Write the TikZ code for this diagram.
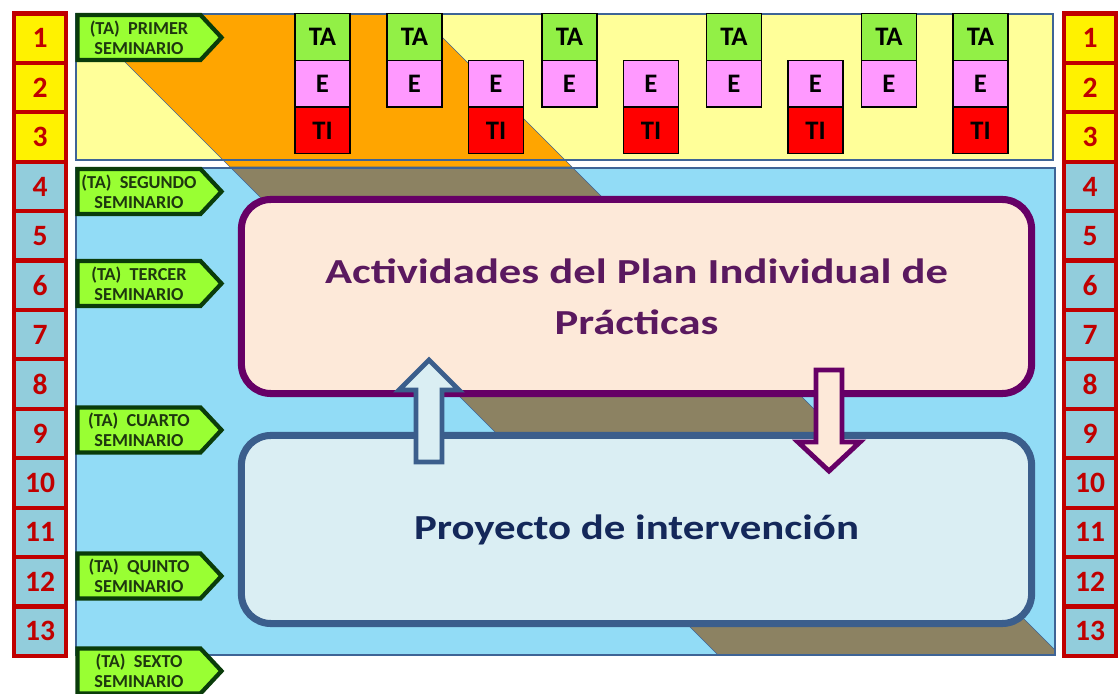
\documentclass[tikz,border=0pt]{standalone}
\usepackage{fontspec}
\setmainfont{Carlito}
\usepackage{graphicx}
\usetikzlibrary{shapes.symbols}
\definecolor{numred}{RGB}{192,0,0}
\definecolor{rowblue}{RGB}{146,205,220}
\definecolor{topyellow}{RGB}{255,255,153}
\definecolor{skyfill}{RGB}{146,220,246}
\definecolor{frameblue}{RGB}{62,100,150}
\definecolor{bandorange}{RGB}{255,165,0}
\definecolor{bandbrown}{RGB}{140,130,98}
\definecolor{taggreen}{RGB}{153,255,51}
\definecolor{tagdark}{RGB}{10,60,10}
\definecolor{tagtext}{RGB}{30,55,15}
\definecolor{cellgreen}{RGB}{146,240,70}
\definecolor{cellpink}{RGB}{255,153,255}
\definecolor{cellred}{RGB}{255,0,0}
\definecolor{planfill}{RGB}{253,233,217}
\definecolor{planline}{RGB}{102,0,102}
\definecolor{plantext}{RGB}{90,25,95}
\definecolor{projfill}{RGB}{218,238,243}
\definecolor{projline}{RGB}{59,94,140}
\definecolor{projtext}{RGB}{20,40,90}
\newcommand{\wide}[2][1.3]{\scalebox{#1}[1]{#2}}

\begin{document}
\begin{tikzpicture}[x=0.025cm, y=-0.025cm,
		numcell/.style={draw=numred, line width=3pt, minimum width=1.3cm, minimum height=1.235cm,
		inner sep=0pt, text=numred, font=\bfseries\fontsize{21}{21}\selectfont, node distance=1.235cm},
		topnum/.style={numcell, fill=yellow},
		lownum/.style={numcell, fill=rowblue},
		tagbox/.style={shape=signal, signal to=east, signal pointer angle=94, draw=tagdark, line width=3pt,
		fill=taggreen, minimum width=3.6cm, minimum height=1.125cm, inner sep=0pt, align=center,
		text=tagtext, font=\bfseries\fontsize{13}{14.5}\selectfont},
		cell/.style={draw=black, line width=1pt, minimum width=1.375cm, minimum height=1.167cm,
		inner sep=0pt, font=\bfseries\fontsize{19}{19}\selectfont, node distance=1.167cm},
		tacell/.style={cell, fill=cellgreen},
		ecell/.style={cell, fill=cellpink},
		ticell/.style={cell, fill=cellred},
		planbox/.style={draw=planline, line width=5pt, fill=planfill, rounded corners=21pt,
		minimum width=19.75cm, minimum height=4.85cm, align=center, text=plantext,
		font=\bfseries\fontsize{25}{36}\selectfont},
		projbox/.style={draw=projline, line width=5pt, fill=projfill, rounded corners=21pt,
		minimum width=19.75cm, minimum height=4.7cm, align=center, text=projtext,
		font=\bfseries\fontsize{25}{36}\selectfont}
		]
		\useasboundingbox (0,0) rectangle (1119,694);
		
		% upper band
		\fill[topyellow] (76,14) rectangle (1053,160);
		\begin{scope}
			\clip (76,14) rectangle (1053,167);
			\filldraw[fill=bandorange, draw=frameblue, thin] (77,14) -- (419,14) -- (572,167) -- (230,167) -- cycle;
		\end{scope}
		\draw[frameblue, line width=1.5pt] (76,14) rectangle (1053,160);
		
		% lower band
		\fill[skyfill] (76,168) rectangle (1055,655);
		\begin{scope}
			\clip (76,168) rectangle (1055,655);
			\filldraw[fill=bandbrown, draw=frameblue, thin] (231,168) -- (573,168) -- (1060,655) -- (718,655) -- cycle;
		\end{scope}
		\draw[frameblue, line width=1.5pt] (76,168) rectangle (1055,655);
		
		% seminarios
		\node[tagbox](S1) at (139,37.5){(TA)\ \ PRIMER\\SEMINARIO};
		\node[tagbox](S2) at (139,191.5){(TA)\ \ SEGUNDO\\SEMINARIO};
		\node[tagbox](S3) at (139,283.5){(TA)\ \ TERCER\\SEMINARIO};
		\node[tagbox](S4) at (139,430){(TA)\ \ CUARTO\\SEMINARIO};
		\node[tagbox](S5) at (139,576){(TA)\ \ QUINTO\\SEMINARIO};
		\node[tagbox](S6) at (139,671){(TA)\ \ SEXTO\\SEMINARIO};
		
		% TA / E / TI
		\node[tacell](TA1) at (322.5,37){TA};
		\node[ecell, below of = TA1](E1){E};
		\node[ticell, below of = E1](TI1){TI};
		\node[tacell](TA2) at (414.5,37){TA};
		\node[ecell, below of = TA2](E2){E};
		\node[ecell](E3) at (496,83.7){E};
		\node[ticell, below of = E3](TI3){TI};
		\node[tacell](TA4) at (569.5,37){TA};
		\node[ecell, below of = TA4](E4){E};
		\node[ecell](E5) at (651,83.7){E};
		\node[ticell, below of = E5](TI5){TI};
		\node[tacell](TA6) at (734,37){TA};
		\node[ecell, below of = TA6](E6){E};
		\node[ecell](E7) at (815.5,83.7){E};
		\node[ticell, below of = E7](TI7){TI};
		\node[tacell](TA8) at (889,37){TA};
		\node[ecell, below of = TA8](E8){E};
		\node[tacell](TA9) at (980.5,37){TA};
		\node[ecell, below of = TA9](E9){E};
		\node[ticell, below of = E9](TI9){TI};
		
		% plan and proyecto
		\node[planbox](plan) at (636.5,296.5){\wide[1.27]{Actividades del Plan Individual de}\\\wide[1.27]{Prácticas}};
		\node[projbox](proj) at (636.5,529.5){\wide[1.22]{Proyecto de intervención}};
		\filldraw[fill=projfill, draw=projline, line width=3.5pt] (416,462) -- (416,390) -- (399,390) -- (429,360)
		-- (459,390) -- (442,390) -- (442,462) -- cycle;
		\filldraw[fill=planfill, draw=planline, line width=3.5pt] (816,370) -- (816,442) -- (798,442) -- (829,471)
		-- (860,442) -- (842,442) -- (842,370) -- cycle;
		
		% weeks left
		\node[topnum](L1) at (40,38.2){1};
		\node[topnum, below of = L1](L2){2};
		\node[topnum, below of = L2](L3){3};
		\node[lownum, below of = L3](L4){4};
		\node[lownum, below of = L4](L5){5};
		\node[lownum, below of = L5](L6){6};
		\node[lownum, below of = L6](L7){7};
		\node[lownum, below of = L7](L8){8};
		\node[lownum, below of = L8](L9){9};
		\node[lownum, below of = L9](L10){10};
		\node[lownum, below of = L10](L11){11};
		\node[lownum, below of = L11](L12){12};
		\node[lownum, below of = L12](L13){13};
		% weeks right
		\node[topnum](R1) at (1090,38.2){1};
		\node[topnum, below of = R1](R2){2};
		\node[topnum, below of = R2](R3){3};
		\node[lownum, below of = R3](R4){4};
		\node[lownum, below of = R4](R5){5};
		\node[lownum, below of = R5](R6){6};
		\node[lownum, below of = R6](R7){7};
		\node[lownum, below of = R7](R8){8};
		\node[lownum, below of = R8](R9){9};
		\node[lownum, below of = R9](R10){10};
		\node[lownum, below of = R10](R11){11};
		\node[lownum, below of = R11](R12){12};
		\node[lownum, below of = R12](R13){13};
	\end{tikzpicture}
\end{document}
